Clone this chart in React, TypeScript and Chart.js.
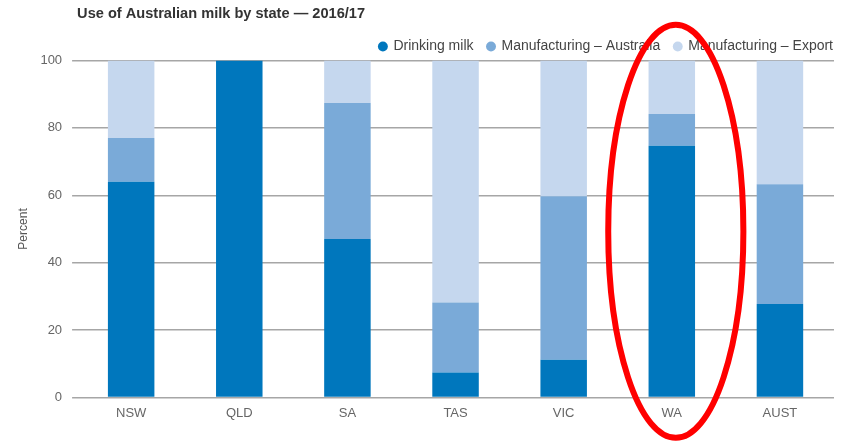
import React, { useEffect, useRef } from "react";
import { Chart, registerables } from "chart.js";

Chart.register(...registerables);

const categories = ["NSW", "QLD", "SA", "TAS", "VIC", "WA", "AUST"];
const drinkingMilk = [64, 100, 47, 7.4, 11.2, 74.7, 27.7];
const manufacturingAustralia = [13, 0, 40.4, 20.8, 48.5, 9.4, 35.6];
const manufacturingExport = [23, 0, 12.6, 71.8, 40.3, 15.9, 36.7];
const yTicks = [0, 20, 40, 60, 80, 100];
const highlighted = "WA";

const ellipsePlugin = {
  id: "highlightEllipse",
  afterLayout(chart: any) {
    if (chart.legend) {
      chart.legend.left += 13;
      chart.legend.right += 13;
      chart.legend.top += 3;
      chart.legend.bottom += 3;
    }
  },
  afterDraw(chart: any) {
    const x = chart.scales.x;
    const y = chart.scales.y;
    const idx = categories.indexOf(highlighted);
    const cx = x.getPixelForValue(idx) + 4;
    const cy = y.getPixelForValue(49.3);
    const catW = x.getPixelForValue(1) - x.getPixelForValue(0);
    const rx = catW * 0.625;
    const ry = y.getPixelForValue(0) - y.getPixelForValue(61.3);
    const ctx = chart.ctx;
    ctx.save();
    ctx.beginPath();
    ctx.ellipse(cx, cy, rx, ry, 0, 0, Math.PI * 2);
    ctx.strokeStyle = "#ff0000";
    ctx.lineWidth = 6;
    ctx.stroke();
    ctx.restore();
  },
};

export default function App() {
  const ref = useRef<HTMLCanvasElement | null>(null);
  useEffect(() => {
    if (!ref.current) return;
    const chart = new Chart(ref.current, {
      type: "bar",
      data: {
        labels: categories,
        datasets: [
          { label: "Drinking milk", data: drinkingMilk, backgroundColor: "#0077bd" },
          { label: "Manufacturing – Australia", data: manufacturingAustralia, backgroundColor: "#7aaad8" },
          { label: "Manufacturing – Export", data: manufacturingExport, backgroundColor: "#c5d7ee" },
        ],
      },
      options: {
        animation: false,
        responsive: false,
        maintainAspectRatio: false,
        layout: { padding: { top: 0, right: 12, bottom: 23, left: 16 } },
        datasets: { bar: { barPercentage: 0.43, categoryPercentage: 1 } },
        plugins: {
          title: {
            display: true,
            text: "Use of Australian milk by state — 2016/17",
            align: "start",
            fullSize: false,
            color: "#333333",
            font: { family: "Liberation Sans, Arial, sans-serif", size: 14.6, weight: "bold" },
            padding: { top: 5, bottom: 0 },
          },
          legend: {
            display: true,
            align: "end",
            fullSize: false,
            labels: {
              usePointStyle: true,
              pointStyle: "circle",
              boxWidth: 7,
              boxHeight: 7,
              color: "#444444",
              padding: 14,
              font: { family: "Liberation Sans, Arial, sans-serif", size: 14 },
            },
          },
          tooltip: { enabled: false },
        },
        scales: {
          x: {
            stacked: true,
            grid: { display: false },
            border: { display: false },
            ticks: {
              color: "#666666",
              padding: 0,
              font: { family: "Liberation Sans Narrow, Liberation Sans, Arial, sans-serif", size: 13 },
            },
          },
          y: {
            stacked: true,
            min: 0,
            max: 100,
            afterBuildTicks(scale: any) {
              scale.ticks = yTicks.map((v) => ({ value: v }));
            },
            grid: { color: "#a6a6a6", lineWidth: 1.5, tickLength: 5, drawTicks: true },
            border: { display: false },
            ticks: {
              color: "#666666",
              padding: 10,
              font: { family: "Liberation Sans, Arial, sans-serif", size: 13 },
            },
            title: {
              display: true,
              text: "Percent",
              color: "#555555",
              padding: { top: 0, bottom: 0 },
              font: { family: "Liberation Sans, Arial, sans-serif", size: 12 },
            },
          },
        },
      },
      plugins: [ellipsePlugin],
    } as any);
    return () => chart.destroy();
  }, []);
  return (
    <div style={{ position: "fixed", left: 0, top: 0, width: 846, height: 444, background: "#fff" }}>
      <canvas ref={ref} width={846} height={444} style={{ width: 846, height: 444 }} />
    </div>
  );
}
